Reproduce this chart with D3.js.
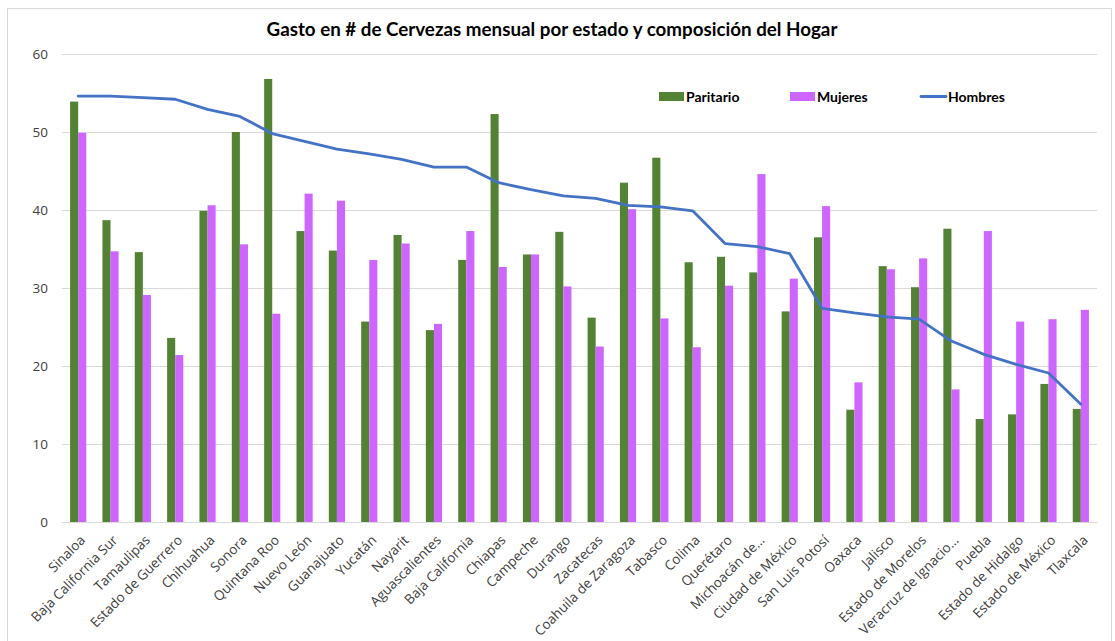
<!DOCTYPE html>
<html>
<head>
<meta charset="utf-8">
<script src="https://cdn.jsdelivr.net/npm/d3@7"></script>
<style>
  body { margin: 0; background: #fff; }
  svg { display: block; font-family: Lato, "Open Sans", sans-serif; }
</style>
</head>
<body>
<svg id="chart" width="1115" height="641"></svg>
<script>
// datos
const estados = [
  'Sinaloa', 'Baja California Sur', 'Tamaulipas', 'Estado de Guerrero', 'Chihuahua',
  'Sonora', 'Quintana Roo', 'Nuevo León', 'Guanajuato', 'Yucatán', 'Nayarit',
  'Aguascalientes', 'Baja California', 'Chiapas', 'Campeche', 'Durango', 'Zacatecas',
  'Coahuila de Zaragoza', 'Tabasco', 'Colima', 'Querétaro', 'Michoacán de…',
  'Ciudad de México', 'San Luis Potosí', 'Oaxaca', 'Jalisco', 'Estado de Morelos',
  'Veracruz de Ignacio…', 'Puebla', 'Estado de Hidalgo', 'Estado de México', 'Tlaxcala'
];
const paritario = [
  53.9, 38.7, 34.6, 23.6, 39.9, 50.0, 56.8, 37.3, 34.8, 25.7, 36.8,
  24.6, 33.6, 52.3, 34.3, 37.2, 26.2, 43.5, 46.7, 33.3, 34.0, 32.0,
  27.0, 36.5, 14.4, 32.8, 30.1, 37.6, 13.2, 13.8, 17.7, 14.5
];
const mujeres = [
  49.9, 34.7, 29.1, 21.4, 40.6, 35.6, 26.7, 42.1, 41.2, 33.6, 35.7,
  25.4, 37.3, 32.7, 34.3, 30.2, 22.5, 40.1, 26.1, 22.4, 30.3, 44.6,
  31.2, 40.5, 17.9, 32.4, 33.8, 17.0, 37.3, 25.7, 26.0, 27.2
];
const hombres = [
  54.6, 54.6, 54.4, 54.2, 52.9, 52.0, 49.8, 48.8, 47.8, 47.2, 46.5,
  45.5, 45.5, 43.5, 42.6, 41.8, 41.5, 40.6, 40.4, 39.9, 35.7, 35.3,
  34.4, 27.4, 26.8, 26.3, 26.0, 23.2, 21.5, 20.2, 19.1, 15.1
];
const yTicks = [0, 10, 20, 30, 40, 50, 60];

const colores = { paritario: '#548235', mujeres: '#CC66FF', hombres: '#4472C4' };

const svg = d3.select('#chart');
const margin = { left: 62, right: 1097, top: 54, bottom: 522 };

// marco del gráfico
svg.append('rect')
  .attr('x', 7.5).attr('y', 8.5)
  .attr('width', 1104).attr('height', 640)
  .attr('fill', 'none').attr('stroke', '#D9D9D9');

const x = d3.scaleBand()
  .domain(estados)
  .range([margin.left, margin.right]);

// ancho de separación ~100%
const xSub = d3.scaleBand()
  .domain(['paritario', 'mujeres'])
  .range([0, x.bandwidth()])
  .paddingInner(0)
  .paddingOuter(1);

const y = d3.scaleLinear()
  .domain([0, 60])
  .range([margin.bottom, margin.top]);

// líneas de cuadrícula
svg.append('g')
  .selectAll('line')
  .data(yTicks)
  .join('line')
  .attr('x1', margin.left).attr('x2', margin.right)
  .attr('y1', d => Math.round(y(d)) + 0.5).attr('y2', d => Math.round(y(d)) + 0.5)
  .attr('stroke', '#D9D9D9').attr('stroke-width', 1);

// eje Y
const yAxis = svg.append('g')
  .attr('transform', `translate(${margin.left - 14},0)`)
  .call(d3.axisLeft(y).tickValues(yTicks).tickSize(0).tickPadding(0));
yAxis.select('.domain').remove();
yAxis.selectAll('text')
  .attr('font-size', 13.5)
  .attr('fill', '#404040')
  .attr('font-family', '"Open Sans", sans-serif');

// barras
const grupos = svg.append('g')
  .selectAll('g')
  .data(estados.map((e, i) => ({ e, paritario: paritario[i], mujeres: mujeres[i] })))
  .join('g')
  .attr('transform', d => `translate(${x(d.e)},0)`);

grupos.selectAll('rect')
  .data(d => ['paritario', 'mujeres'].map(k => ({ k, v: d[k] })))
  .join('rect')
  .attr('x', d => xSub(d.k))
  .attr('width', xSub.bandwidth())
  .attr('y', d => y(d.v))
  .attr('height', d => y(0) - y(d.v))
  .attr('fill', d => colores[d.k]);

// línea Hombres
const linea = d3.line()
  .x((d, i) => x(estados[i]) + x.bandwidth() / 2)
  .y(d => y(d));

svg.append('path')
  .datum(hombres)
  .attr('d', linea)
  .attr('fill', 'none')
  .attr('stroke', colores.hombres)
  .attr('stroke-width', 2.8)
  .attr('stroke-linejoin', 'round')
  .attr('stroke-linecap', 'round');

// eje X
const xAxis = svg.append('g')
  .attr('transform', `translate(0,${margin.bottom})`)
  .call(d3.axisBottom(x).tickSize(0).tickPadding(0));
xAxis.select('.domain').attr('stroke', '#D9D9D9');
xAxis.selectAll('text')
  .attr('font-size', 13.5)
  .attr('fill', '#404040')
  .attr('font-family', '"Open Sans", sans-serif')
  .attr('text-anchor', 'end')
  .attr('dy', 0)
  .attr('transform', 'translate(8,19) rotate(-45)');

// título
const titulo = svg.append('text')
  .attr('x', 552).attr('y', 36)
  .attr('text-anchor', 'middle')
  .attr('font-weight', 'bold')
  .attr('font-size', 17)
  .attr('fill', '#000')
  .text('Gasto en # de Cervezas mensual por estado y composición del Hogar');
const ancho = titulo.node().getComputedTextLength();
titulo.attr('font-size', 17 * 571 / ancho);

// leyenda
const leyenda = svg.append('g').attr('font-weight', 'bold').attr('font-size', 14).attr('fill', '#000');
const items = [
  { nombre: 'Paritario', x: 659, tipo: 'rect', color: colores.paritario },
  { nombre: 'Mujeres', x: 790, tipo: 'rect', color: colores.mujeres },
  { nombre: 'Hombres', x: 921, tipo: 'line', color: colores.hombres }
];
items.forEach(it => {
  if (it.tipo === 'rect') {
    leyenda.append('rect').attr('x', it.x).attr('y', 92).attr('width', 25).attr('height', 9).attr('fill', it.color);
  } else {
    leyenda.append('line').attr('x1', it.x).attr('x2', it.x + 25).attr('y1', 96.5).attr('y2', 96.5)
      .attr('stroke', it.color).attr('stroke-width', 2.8).attr('stroke-linecap', 'round');
  }
  leyenda.append('text').attr('x', it.x + 27).attr('y', 101.5).text(it.nombre);
});
</script>
</body>
</html>
